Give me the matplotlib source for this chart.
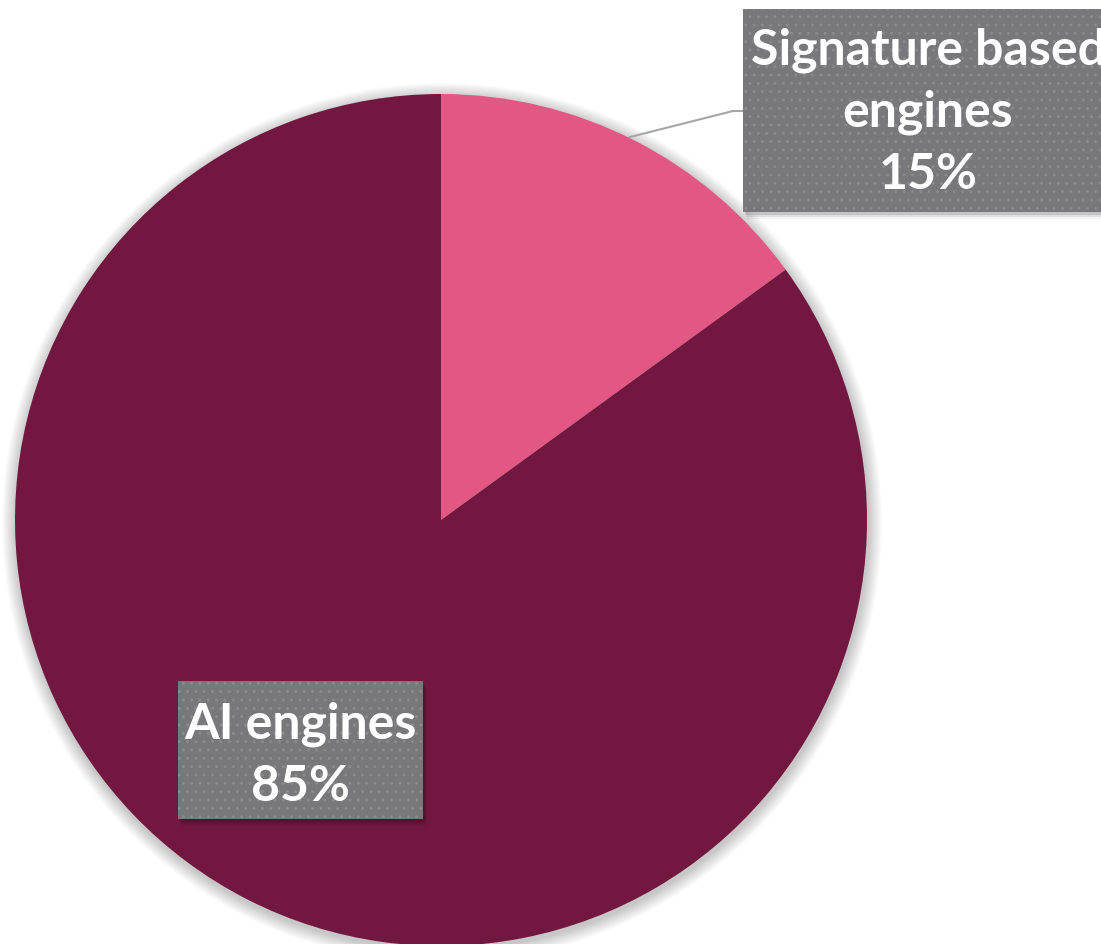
import matplotlib
matplotlib.use("Agg")
import matplotlib.pyplot as plt
from matplotlib.patches import Rectangle, Circle

categories = ["Signature based\nengines", "AI engines"]
values = [15, 85]
colors = ["#e35784", "#721840"]
pct_labels = ["15%", "85%"]

W, H = 1101, 945
fig = plt.figure(figsize=(W / 100, H / 100), dpi=100)
ax = fig.add_axes([0, 0, 1, 1])
ax.set_xlim(0, W)
ax.set_ylim(0, H)
ax.set_aspect("equal")
ax.axis("off")

cx, cy, R = 441, 424, 426

# soft shadow around the pie
for k in range(14, 0, -1):
    ax.add_patch(Circle((cx + 1, cy - 3), R + k, color="#000000", alpha=0.015, lw=0, zorder=0))

ax.pie(values, colors=colors, startangle=90, counterclock=False,
       center=(cx, cy), radius=R, wedgeprops=dict(linewidth=0), frame=True)
ax.set_xlim(0, W)
ax.set_ylim(0, H)
ax.axis("off")

font = ["Lato", "DejaVu Sans"]
box_col = "#78787a"

def label_box(x0, y0, x1, y1, text, tx, ty):
    for k, a in [(7, 0.05), (5, 0.08), (3, 0.12)]:
        ax.add_patch(Rectangle((x0 + k * 0.6, y0 - k), x1 - x0, y1 - y0,
                               facecolor="#000000", alpha=a, lw=0, zorder=4))
    ax.add_patch(Rectangle((x0, y0), x1 - x0, y1 - y0, facecolor=box_col,
                           edgecolor="#8a8a8c", hatch="..", lw=0, zorder=5))
    ax.text(tx, ty, text, ha="center", va="center", color="white",
            fontsize=36, fontweight="bold", family=font, linespacing=1.45, zorder=6)

# leader line for the small slice
ax.plot([630, 733, 743], [H - 138, H - 112, H - 112], color="#a6a6a6", lw=1.5, zorder=3)

label_box(743, H - 213, 1115, H - 10,
          categories[0] + "\n" + pct_labels[0], 928, H - 112)
label_box(178, H - 820, 423, H - 682,
          categories[1] + "\n" + pct_labels[1], 300, H - 755)

fig.savefig("out.png", dpi=100)
